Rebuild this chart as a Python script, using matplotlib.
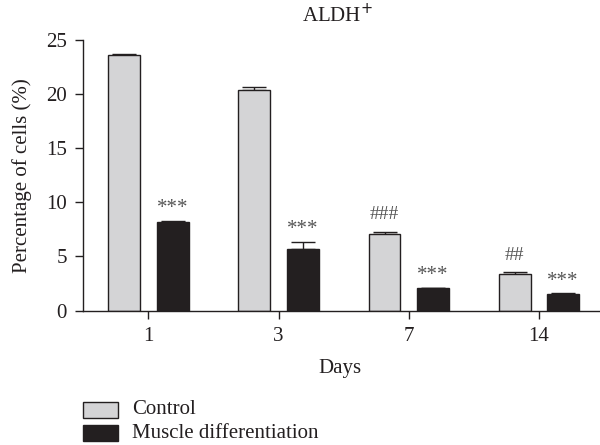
import numpy as np
import matplotlib.pyplot as plt
from matplotlib.patches import Rectangle

# data
days = ['1', '3', '7', '14']
control = [23.6, 20.4, 7.05, 3.36]
control_err = [0.15, 0.25, 0.25, 0.2]
muscle = [8.15, 5.73, 2.07, 1.5]
muscle_err = [0.12, 0.6, 0.0, 0.1]
control_marks = ['', '', '###', '##']
muscle_marks = ['***', '***', '***', '***']

ink = '#231f20'
plt.rcParams['font.family'] = ['Liberation Serif', 'DejaVu Serif']
plt.rcParams['font.size'] = 15
plt.rcParams['text.color'] = ink
plt.rcParams['axes.labelcolor'] = ink

fig = plt.figure(figsize=(6, 4.45), dpi=100)
ax = fig.add_axes([0.139, 0.302, 0.861, 0.608])

x = np.arange(len(days))
w = 0.245
off = 0.186
ax.bar(x - off, control, w, color='#d4d4d6', edgecolor=ink, linewidth=1.0, zorder=2)
ax.bar(x + off, muscle, w, color=ink, edgecolor=ink, linewidth=1.0, zorder=2)
ax.errorbar(x - off, control, yerr=[np.zeros(4), control_err], fmt='none',
            ecolor=ink, elinewidth=1.0, capsize=8.5, capthick=1.0, zorder=1)
ax.errorbar(x + off, muscle, yerr=[np.zeros(4), muscle_err], fmt='none',
            ecolor=ink, elinewidth=1.0, capsize=8.5, capthick=1.0, zorder=1)

for i in range(len(days)):
    if control_marks[i]:
        ax.annotate(control_marks[i], (x[i] - off, control[i] + control_err[i]),
                    xytext=(0, 6), textcoords='offset points', ha='center', va='bottom',
                    color='#555555', fontsize=14)
    ax.annotate(muscle_marks[i], (x[i] + off, muscle[i] + muscle_err[i]),
                xytext=(0, 2), textcoords='offset points', ha='center', va='bottom',
                color='#555555', fontsize=15)

ax.set_xlim(-0.5, 3.47)
ax.set_ylim(0, 25)
ax.set_yticks([0, 5, 10, 15, 20, 25])
ax.set_xticks(x)
ax.set_xticklabels(days)
ax.tick_params(direction='out', length=6, width=1, color=ink, labelcolor=ink, labelsize=15)
ax.tick_params(axis='y', pad=6)
ax.tick_params(axis='x', pad=6)
for s in ['top', 'right']:
    ax.spines[s].set_visible(False)
for s in ['left', 'bottom']:
    ax.spines[s].set_linewidth(1)
    ax.spines[s].set_color(ink)

ax.set_ylabel('Percentage of cells (%)', fontsize=15, labelpad=10)
fig.text(0.567, 0.172, 'Days', ha='center', va='center', fontsize=15)
fig.text(0.563, 0.965, 'ALDH$^{+}$', ha='center', va='center', fontsize=15)

# legend
fig.patches.append(Rectangle((83 / 600, 1 - 418 / 445), 35 / 600, 16 / 445, transform=fig.transFigure,
                             facecolor='#d4d4d6', edgecolor=ink, linewidth=1.0))
fig.text(132 / 600, 1 - 410 / 445, 'Control', va='center', fontsize=15)
fig.patches.append(Rectangle((83 / 600, 1 - 441 / 445), 35 / 600, 16 / 445, transform=fig.transFigure,
                             facecolor=ink, edgecolor=ink, linewidth=1.0))
fig.text(132 / 600, 1 - 433 / 445, 'Muscle differentiation', va='center', fontsize=15)

fig.savefig('out.png', dpi=100)
